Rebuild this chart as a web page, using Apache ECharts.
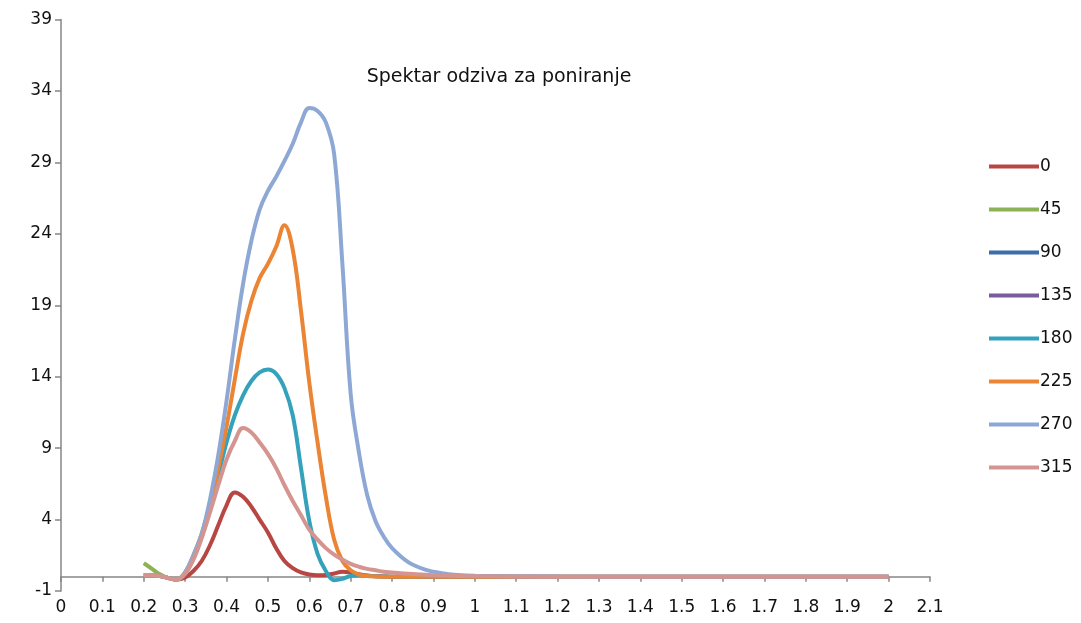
<!DOCTYPE html>
<html>
<head>
<meta charset="utf-8">
<script src="https://cdn.jsdelivr.net/npm/echarts@6/dist/echarts.min.js"></script>
<style>html,body{margin:0;padding:0;background:#fff}#c{width:1081px;height:623px}</style>
</head>
<body>
<div id="c"></div>
<script>
const titleText = 'Spektar odziva za poniranje';
const seriesNames = ['0','45','90','135','180','225','270','315'];
const xs = [0.20,0.22,0.24,0.26,0.28,0.30,0.32,0.34,0.36,0.38,0.40,0.42,0.44,0.46,0.48,0.50,0.52,0.54,0.56,0.58,0.60,0.62,0.64,0.66,0.68,0.70,0.72,0.74,0.76,0.78,0.80,0.84,0.88,0.92,0.96,1.0,1.2,1.4,1.6,1.8,2.0];
const s0   = [0.1,0.1,0.05,-0.1,-0.2,-0.05,0.4,1.1,2.2,3.6,5.0,5.9,5.6,4.9,4.0,3.1,2.0,1.1,0.6,0.3,0.15,0.1,0.12,0.22,0.35,0.3,0.18,0.09,0.04,0.02,0,0,0,0,0,0,0,0,0,0,0];
const s45  = [0.95,0.55,0.15,-0.1,-0.2];
const s90  = [];
const s135 = [];
const s180 = [0.1,0.1,0.05,-0.1,-0.2,0.25,1.3,2.8,4.8,7.1,9.4,11.3,12.7,13.7,14.3,14.5,14.2,13.2,11.3,7.6,3.9,1.6,0.4,-0.25,-0.15,0.05,0.1,0.06,0.03,0.01,0,0,0,0,0,0,0,0,0,0,0];
const s225 = [0.1,0.1,0.05,-0.1,-0.2,0.3,1.5,3.0,5.0,7.6,10.5,13.8,17.0,19.3,20.9,21.9,23.1,24.6,22.9,18.6,13.6,9.4,5.6,2.6,1.1,0.45,0.15,0.05,0.02,0,0,0,0,0,0,0,0,0,0,0,0];
const s270 = [0.1,0.1,0.05,-0.1,-0.2,0.3,1.5,3.0,5.4,8.5,12.3,16.6,20.5,23.5,25.7,27.0,28.0,29.1,30.3,31.8,32.8,32.6,31.8,29.6,21.9,12.8,8.7,5.7,3.9,2.8,2.0,1.0,0.5,0.25,0.12,0.06,0.01,0,0,0,0];
const s315 = [0.1,0.1,0.05,-0.1,-0.2,0.2,1.2,2.7,4.5,6.4,8.2,9.5,10.4,10.1,9.4,8.6,7.6,6.4,5.3,4.3,3.3,2.6,2.0,1.55,1.2,0.9,0.7,0.55,0.45,0.35,0.3,0.2,0.13,0.08,0.05,0.03,0,0,0,0,0];
const seriesValues = [s0,s45,s90,s135,s180,s225,s270,s315];
const colors = ['#B84744','#8DB255','#3D6DAB','#7A5B9E','#35A2BC','#EB8534','#8EA8D5','#D49590'];

const font = 'DejaVu Sans';
const axisColor = '#868686';
const fmt = v => String(+(+v).toFixed(1));

const series = seriesNames.map((n,i) => ({
  name: n,
  type: 'line',
  smooth: 0.4,
  showSymbol: false,
  symbol: 'none',
  xAxisIndex: 0,
  lineStyle: {width: 4, color: colors[i]},
  itemStyle: {color: colors[i]},
  data: seriesValues[i].map((v,j) => [xs[j], v])
}));

const chart = echarts.init(document.getElementById('c'));
chart.setOption({
  animation: false,
  color: colors,
  title: {text: titleText, left: 494, top: 63, textAlign: 'center',
    textStyle: {fontFamily: font, fontSize: 19, fontWeight: 'normal', color: '#111'}},
  legend: {
    orient: 'vertical', left: 984, top: 153, itemGap: 26,
    icon: 'rect', itemWidth: 50, itemHeight: 4,
    textStyle: {fontFamily: font, fontSize: 17, color: '#111', padding: [0,0,0,-4]},
    data: seriesNames
  },
  grid: {left: 61, right: 151, top: 19.5, bottom: 32, containLabel: false},
  xAxis: [
    {type: 'value', min: 0, max: 2.1, interval: 0.1, position: 'bottom',
      axisLine: {onZero: true, lineStyle: {color: axisColor, width: 1.5}},
      axisTick: {show: true, length: 5, lineStyle: {color: axisColor, width: 1.5}},
      axisLabel: {show: false}, splitLine: {show: false}},
    {type: 'value', min: 0, max: 2.1, interval: 0.1, position: 'bottom',
      axisLine: {show: false, onZero: false}, axisTick: {show: false},
      axisLabel: {show: true, margin: 8, formatter: fmt, fontFamily: font, fontSize: 17, color: '#111'},
      splitLine: {show: false}}
  ],
  yAxis: {type: 'value', min: -1, max: 39, interval: 5,
    axisLine: {show: true, onZero: false, lineStyle: {color: axisColor, width: 1.5}},
    axisTick: {show: true, length: 6, lineStyle: {color: axisColor, width: 1.5}},
    axisLabel: {margin: 9, fontFamily: font, fontSize: 17, color: '#111'},
    splitLine: {show: false}},
  series: series
});
</script>
</body>
</html>
